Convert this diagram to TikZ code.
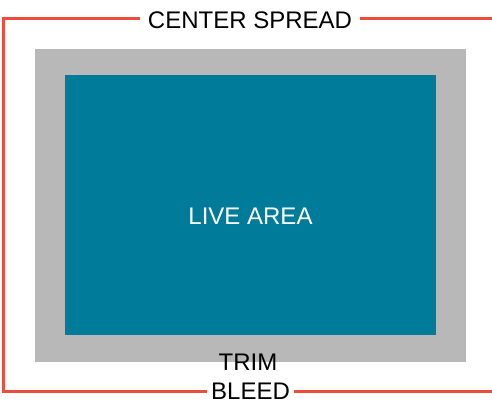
\documentclass[tikz,border=0pt]{standalone}
\usepackage{fontspec}
\setmainfont{Liberation Sans}
\definecolor{bleedred}{RGB}{238,76,60}
\definecolor{trimgray}{RGB}{184,184,184}
\definecolor{liveteal}{RGB}{0,124,154}
\tikzset{
  marklabel/.style={font=\fontsize{24}{28}\selectfont, inner ysep=0pt},
  bleedline/.style={draw=bleedred, line width=3pt}
}
\begin{document}
\begin{tikzpicture}[x=1pt, y=-1pt]
        \useasboundingbox (0,0) rectangle (492,402);
        % Trim area
        \fill[trimgray] (35,49) rectangle (466,362);
        % Live area
        \fill[liveteal] (65,75) rectangle (436,335);
        \node[marklabel, text=white] (live) at (250.5,216) {LIVE AREA};
        
        % Labels
        \node[marklabel, inner xsep=8pt] (spread) at (250,20) {CENTER SPREAD};
        \node[marklabel, inner xsep=2pt] (trim) at (248,362) {TRIM};
        \node[marklabel, inner xsep=4pt] (bleed) at (250.5,391) {BLEED};
        
        % Bleed outline
        \coordinate (topleft) at (3,18);
        \coordinate (topright) at (492,18);
        \coordinate (botleft) at (3,391);
        \coordinate (botright) at (492,391);
        \draw[bleedline] (spread.west |- topleft) -- (topleft) -- (botleft) -- (bleed.west |- botleft);
        \draw[bleedline] (spread.east |- topright) -- (topright);
        \draw[bleedline] (bleed.east |- botright) -- (botright);
    \end{tikzpicture}
\end{document}
